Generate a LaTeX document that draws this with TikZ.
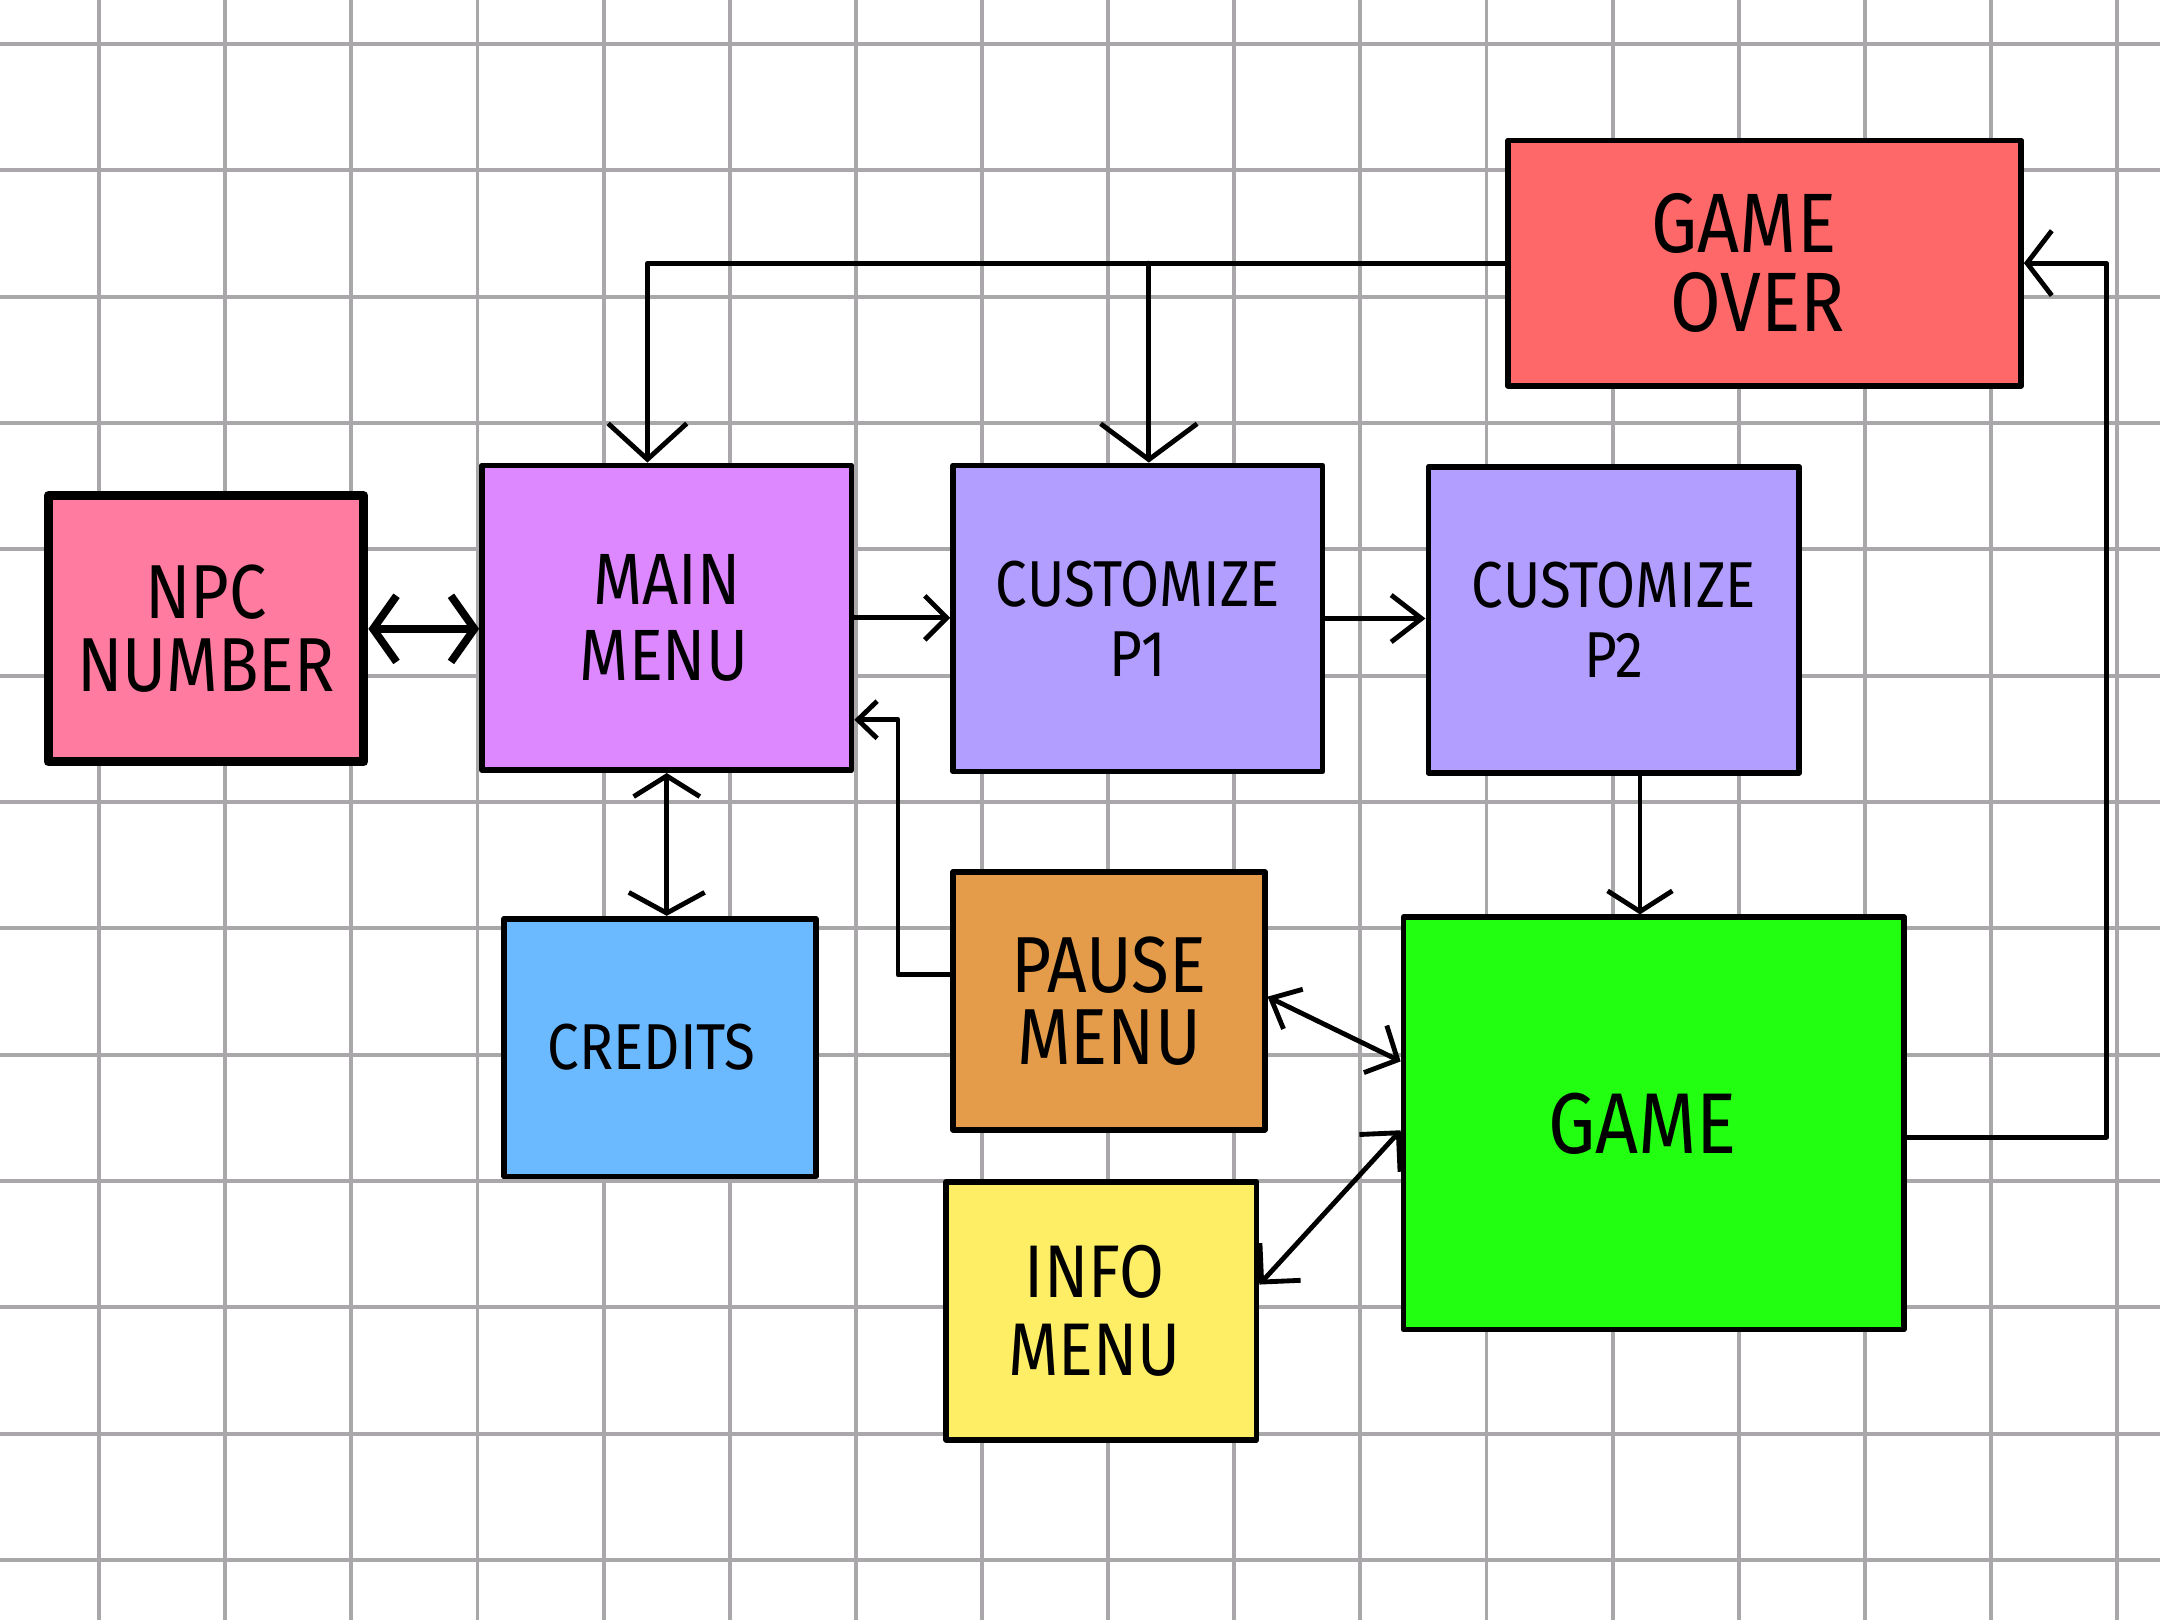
\documentclass[tikz,border=0pt]{standalone}
\usepackage{fontspec}
\newfontfamily\hand[FakeStretch=0.87]{Fira Sans}
\usetikzlibrary{arrows.meta,calc}
\definecolor{gridgray}{HTML}{A9A7AA}
\definecolor{cnpc}{HTML}{FF7BA0}
\definecolor{cmain}{HTML}{DD88FF}
\definecolor{ccust}{HTML}{B29EFF}
\definecolor{cover}{HTML}{FF6868}
\definecolor{ccred}{HTML}{6BB9FF}
\definecolor{cpause}{HTML}{E49C4A}
\definecolor{cinfo}{HTML}{FDEE66}
\definecolor{cgame}{HTML}{22FF11}
\begin{document}
\begin{tikzpicture}[x=0.01cm,y=-0.01cm,
  box/.style={draw=black, line width=1.2pt, line join=round, text=black, align=center, inner sep=0pt},
  conn/.style={draw=black, line width=1pt, line cap=round, line join=round},
  gridline/.style={draw=gridgray, line width=0.8pt}]
\fill[white] (0,0) rectangle (1568,1176);
\useasboundingbox (0,0) rectangle (1568,1176);
% grid
\foreach \k in {0,...,16} \draw[gridline] ({72+91.55*\k},0) -- ({72+91.55*\k},1176);
\foreach \k in {0,...,12} \draw[gridline] (0,{32+91.7*\k}) -- (1568,{32+91.7*\k});
% boxes
\node[box, line width=1.9pt, fill=cnpc, minimum width=2.29cm, minimum height=1.93cm,
  font=\hand\fontsize{15.8}{15}\selectfont] (npc) at (149.5,456.5) {NPC\\NUMBER};
\node[box, fill=cmain, minimum width=2.68cm, minimum height=2.21cm,
  font=\hand\fontsize{15}{15.6}\selectfont] (main) at (484,448.5) {MAIN\\MENU\hspace*{0.04cm}};
\node[box, fill=ccust, minimum width=2.68cm, minimum height=2.22cm,
  font=\hand\fontsize{13.4}{14.4}\selectfont] (p1) at (826,449) {CUSTOMIZE\\P1};
\node[box, fill=ccust, minimum width=2.69cm, minimum height=2.22cm,
  font=\hand\fontsize{13.4}{14.4}\selectfont] (p2) at (1171.5,450) {CUSTOMIZE\\P2};
\node[box, fill=cover, minimum width=3.72cm, minimum height=1.78cm,
  font=\hand\fontsize{17.4}{16.4}\selectfont] (gameover) at (1281,191)
  {GAME\hspace*{0.3cm}\\OVER\hspace*{0.1cm}};
\node[box, fill=ccred, minimum width=2.26cm, minimum height=1.87cm,
  font=\hand\fontsize{13.4}{14}\selectfont] (credits) at (479,760.5) {CREDITS\hspace*{0.12cm}};
\node[box, fill=cpause, minimum width=2.26cm, minimum height=1.87cm,
  font=\hand\fontsize{16.4}{14.8}\selectfont] (pause) at (805,726.5) {PAUSE\\MENU};
\node[box, fill=cinfo, minimum width=2.25cm, minimum height=1.87cm,
  font=\hand\fontsize{15.4}{16}\selectfont] (info) at (799.5,951.5) {INFO\hspace*{0.1cm}\\MENU\hspace*{0.1cm}};
\node[box, fill=cgame, minimum width=3.63cm, minimum height=2.99cm,
  font=\hand\fontsize{17.8}{17}\selectfont] (game) at (1200.5,815.5) {GAME\hspace*{0.16cm}};
% helper coordinates
\coordinate (mainin) at ($(main.north)+(-14,0)$);
\coordinate (p1in) at ($(p1.north)+(8,0)$);
\coordinate (p2out) at ($(p2.south)+(19,0)$);
\coordinate (gameout) at ($(game.east)+(0,10)$);
\coordinate (pauseout) at ($(pause.west)+(0,-19)$);
\coordinate (mainback) at ($(main.east)+(0,74)$);
\coordinate (gamepause) at ($(game.west)+(0,-45)$);
\coordinate (pauseend) at ($(pause.east)+(0,-3)$);
\coordinate (infoout) at ($(info.east)+(0,-19)$);
\coordinate (gameinfo) at ($(game.west)+(0,5)$);
% connectors
\draw[conn, line width=1.6pt, {Straight Barb[length=1.7mm,width=4.8mm]}-{Straight Barb[length=1.7mm,width=4.8mm]}]
  (npc.east) -- (npc.east -| main.west);
\draw[conn, -{Straight Barb[length=1.6mm,width=3.2mm]}] (main.east) -- (main.east -| p1.west);
\draw[conn, -{Straight Barb[length=2.2mm,width=3.4mm]}] (p1.east) -- (p1.east -| p2.west);
\draw[conn, -{Straight Barb[length=1.5mm,width=4.7mm]}] (p2out) -- (p2out |- game.north);
\draw[conn, -{Straight Barb[length=1.8mm,width=4.7mm]}] (gameout) -- ++(145,0) |- (gameover.east);
\draw[conn, -{Straight Barb[length=2.6mm,width=5.7mm]}] (gameover.west) -| (mainin);
\draw[conn, -{Straight Barb[length=2.6mm,width=7mm]}] (p1in |- gameover.west) -- (p1in);
\draw[conn, {Straight Barb[length=1.5mm,width=4.8mm]}-{Straight Barb[length=1.5mm,width=5.5mm]}]
  (main.south) -- (main.south |- credits.north);
\draw[conn, -{Straight Barb[length=1.4mm,width=2.7mm]}] (pauseout) -- ++(-38,0) |- (mainback);
\draw[conn, {Straight Barb[length=1.8mm,width=3.2mm]}-{Straight Barb[length=1.8mm,width=3.8mm]}]
  (pauseend) -- (gamepause);
\draw[conn, {Straight Barb[length=2mm,width=4mm]}-{Straight Barb[length=2mm,width=4mm]}]
  (infoout) -- (gameinfo);
\end{tikzpicture}
\end{document}
